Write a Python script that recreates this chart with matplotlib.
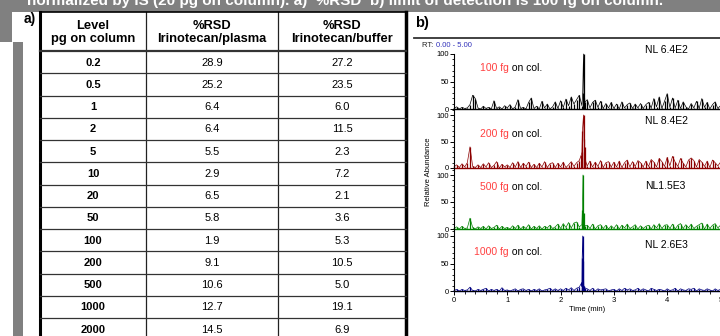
import numpy as np
import matplotlib
matplotlib.use("Agg")
import matplotlib.pyplot as plt
from matplotlib.patches import Rectangle
from matplotlib.ticker import MultipleLocator

plt.rcParams["font.family"] = ["Liberation Sans", "DejaVu Sans"]

W, H = 720, 336

# ---- table data -----------------------------------------------------------
levels = ["0.2", "0.5", "1", "2", "5", "10", "20", "50", "100", "200", "500", "1000", "2000"]
rsd_plasma = [28.9, 25.2, 6.4, 6.4, 5.5, 2.9, 6.5, 5.8, 1.9, 9.1, 10.6, 12.7, 14.5]
rsd_buffer = [27.2, 23.5, 6.0, 11.5, 2.3, 7.2, 2.1, 3.6, 5.3, 10.5, 5.0, 19.1, 6.9]
headers = ["Level\npg on column", "%RSD\nIrinotecan/plasma", "%RSD\nIrinotecan/buffer"]

# ---- chromatogram data (relative abundance, sampled every 0.05 min) ------
rt_step = 0.05
trace_100fg = [1, 4, 0, 3, 1, 2, 8, 25, 19, 2,
               0, 5, 1, 3, 0, 15, 1, 4, 0, 6,
               2, 8, 0, 4, 17, 1, 3, 0, 12, 20,
               1, 5, 0, 14, 2, 9, 0, 4, 13, 1,
               15, 3, 18, 6, 22, 9, 17, 25, 6, 12,
               17, 2, 12, 16, 3, 14, 1, 10, 2, 12,
               1, 9, 0, 13, 2, 8, 11, 1, 9, 2,
               10, 1, 8, 12, 2, 19, 4, 22, 1, 14,
               28, 3, 20, 2, 16, 1, 13, 4, 0, 10,
               2, 14, 1, 19, 3, 12, 0, 8, 13, 1,
               6]
trace_200fg = [2, 6, 1, 8, 2, 10, 40, 3, 1, 6,
               1, 8, 2, 10, 1, 5, 12, 0, 7, 2,
               6, 1, 10, 2, 12, 1, 9, 3, 11, 1,
               7, 1, 9, 2, 12, 1, 8, 10, 1, 9,
               2, 11, 1, 6, 12, 3, 10, 14, 30, 40,
               4, 13, 2, 11, 3, 14, 1, 10, 12, 2,
               11, 2, 13, 1, 10, 15, 2, 12, 3, 14,
               10, 2, 13, 3, 16, 11, 2, 18, 12, 3,
               20, 4, 22, 11, 3, 18, 9, 2, 15, 19,
               14, 2, 16, 11, 3, 13, 1, 15, 10, 4,
               11]
trace_500fg = [1, 4, 0, 5, 1, 2, 20, 3, 0, 4,
               1, 5, 0, 6, 1, 3, 7, 0, 5, 1,
               3, 0, 6, 1, 7, 0, 5, 1, 8, 0,
               5, 1, 6, 0, 5, 2, 7, 1, 4, 9,
               1, 10, 3, 12, 2, 11, 13, 4, 8, 6,
               7, 1, 9, 0, 6, 8, 1, 7, 0, 6,
               1, 8, 0, 7, 2, 9, 1, 4, 8, 0,
               6, 1, 5, 7, 0, 8, 2, 10, 1, 7,
               8, 1, 9, 0, 7, 10, 1, 8, 2, 9,
               1, 5, 8, 11, 0, 9, 1, 7, 10, 2,
               7]
trace_1000fg = [1, 3, 0, 3, 1, 2, 7, 1, 0, 3,
                1, 3, 5, 0, 3, 1, 3, 0, 6, 1,
                2, 0, 2, 4, 0, 3, 4, 1, 3, 0,
                3, 1, 4, 0, 2, 3, 5, 1, 4, 1,
                4, 1, 5, 2, 6, 1, 5, 7, 8, 6,
                4, 1, 5, 0, 4, 2, 3, 4, 0, 2,
                3, 0, 4, 1, 5, 2, 4, 1, 2, 5,
                1, 4, 2, 0, 5, 3, 1, 3, 2, 0,
                4, 1, 2, 5, 0, 4, 2, 1, 4, 3,
                5, 0, 4, 2, 1, 4, 2, 0, 4, 1,
                3]

peak_rt_100fg = [2.415, 2.43, 2.44]
peak_100fg = [30, 100, 20]
peak_rt_200fg = [2.39, 2.41, 2.43, 2.44, 2.46]
peak_200fg = [25, 70, 100, 55, 15]
peak_rt_500fg = [2.41, 2.42, 2.43]
peak_500fg = [35, 100, 30]
peak_rt_1000fg = [2.395, 2.405, 2.415, 2.425, 2.435]
peak_1000fg = [15, 60, 100, 55, 10]

amounts = ["100 fg", "200 fg", "500 fg", "1000 fg"]
nl_labels = ["NL 6.4E2", "NL 8.4E2", "NL1.5E3", "NL 2.6E3"]
trace_colors = ["#000000", "#8b0000", "#008000", "#00007f"]

fig = plt.figure(figsize=(W / 100, H / 100), dpi=100)
bg = fig.add_axes([0, 0, 1, 1])
bg.set_xlim(0, W)
bg.set_ylim(H, 0)
bg.axis("off")

GRAY = "#808080"
bg.add_patch(Rectangle((0, 0), W, 12, color=GRAY, lw=0))
bg.add_patch(Rectangle((0, 12), 12, 30, color=GRAY, lw=0))
bg.add_patch(Rectangle((13, 42), 10, H - 42, color=GRAY, lw=0))
bg.text(27, 5, "normalized by IS (20 pg on column). a)  %RSD  b) limit of detection is 100 fg on column.",
        color="white", fontsize=11, fontweight="bold", va="baseline", ha="left")

# ---- table a) -------------------------------------------------------------
bg.text(24, 19, "a)", fontsize=10, fontweight="bold", va="center", ha="left")
col_x = [40, 146, 278, 406]
head_top, head_bot, row_h = 12, 51, 22.25
for x in col_x[1:3]:
    bg.plot([x, x], [head_top, H], color="#222222", lw=0.9)
bg.plot([col_x[0], col_x[0]], [head_top, H], color="black", lw=2.2)
bg.plot([col_x[3], col_x[3]], [head_top, H], color="black", lw=2.5)
bg.plot([col_x[0], col_x[3]], [head_top, head_top], color="black", lw=1.2)
bg.plot([col_x[0], col_x[3]], [head_bot, head_bot], color="#333333", lw=1.6)
col_c = [(col_x[i] + col_x[i + 1]) / 2 for i in range(3)]
for c, h in zip(col_c, headers):
    bg.text(c, (head_top + head_bot) / 2 + 1, h, ha="center", va="center",
            fontsize=9.3, fontweight="bold", linespacing=1.12)
for k, (lv, p, b) in enumerate(zip(levels, rsd_plasma, rsd_buffer)):
    y0 = head_bot + k * row_h
    if k > 0:
        bg.plot([col_x[0], col_x[3]], [y0, y0], color="#333333", lw=0.9)
    yc = y0 + row_h / 2 + 0.5
    bg.text(col_c[0], yc, lv, ha="center", va="center", fontsize=8, fontweight="bold")
    bg.text(col_c[1], yc, f"{p:.1f}", ha="center", va="center", fontsize=8)
    bg.text(col_c[2], yc, f"{b:.1f}", ha="center", va="center", fontsize=8)

# ---- chromatograms b) -----------------------------------------------------
bg.text(415, 23, "b)", fontsize=10.5, fontweight="bold", va="center", ha="left")
bg.plot([414, W], [38, 38], color="#333333", lw=1.3)
bg.text(422, 45.5, "RT: ", fontsize=5.5, color="#222222", va="center", ha="left")
bg.text(436, 45.5, "0.00 - 5.00", fontsize=5.5, color="#3333bb", va="center", ha="left")
bg.text(428, 172, "Relative Abundance", fontsize=5.5, rotation=90, va="center", ha="center")

traces = [trace_100fg, trace_200fg, trace_500fg, trace_1000fg]
peak_rts = [peak_rt_100fg, peak_rt_200fg, peak_rt_500fg, peak_rt_1000fg]
peaks = [peak_100fg, peak_200fg, peak_500fg, peak_1000fg]
zero_px = [109, 168, 229, 291]
full_px = [54, 115, 175, 236]
label_y = [68, 134, 187, 252]
nl_y = [50, 121, 186, 245]
x_left, x_right = 454, 720.5

for k in range(4):
    top = full_px[0] if k == 0 else zero_px[k - 1]
    ax = fig.add_axes([x_left / W, 1 - zero_px[k] / H,
                       (x_right - x_left) / W, (zero_px[k] - top) / H])
    ymax = 100 * (zero_px[k] - top) / (zero_px[k] - full_px[k])
    ax.set_xlim(0, 5)
    ax.set_ylim(0, ymax)
    ax.patch.set_alpha(0)
    col = trace_colors[k]
    rt = np.arange(len(traces[k])) * rt_step
    x = np.concatenate([rt, peak_rts[k]])
    y = np.concatenate([traces[k], peaks[k]])
    order = np.argsort(x)
    # each scan drawn as a spike from the baseline, joined by a thin trace line
    ax.vlines(x, 0, y, color=col, lw=0.9, clip_on=False)
    ax.plot(x[order], y[order], color=col, lw=0.5, clip_on=False)
    ax.axhline(0.8, color=col, lw=1.0, clip_on=False)
    for s in ["top", "right"]:
        ax.spines[s].set_visible(False)
    ax.spines["left"].set_linewidth(0.8)
    ax.set_yticks([0, 50, 100])
    ax.yaxis.set_minor_locator(MultipleLocator(10))
    ax.tick_params(axis="y", which="major", length=3, width=0.7, labelsize=5.5, pad=0.5)
    ax.tick_params(axis="y", which="minor", length=1.5, width=0.6)
    if k < 3:
        ax.spines["bottom"].set_visible(False)
        ax.set_xticks([])
        ax.xaxis.set_minor_locator(plt.NullLocator())
    else:
        ax.spines["bottom"].set_linewidth(0.8)
        ax.set_xticks(range(6))
        ax.xaxis.set_minor_locator(MultipleLocator(0.2))
        ax.tick_params(axis="x", which="major", length=3, width=0.7, labelsize=5.5, pad=1.5)
        ax.tick_params(axis="x", which="minor", length=2, width=0.6)
        ax.set_xlabel("Time (min)", fontsize=5.5, labelpad=1)
    bg.text(645, nl_y[k], nl_labels[k], fontsize=7.5, va="center", ha="left")
    amt = bg.text(480 if k < 3 else 474, label_y[k], amounts[k], fontsize=7.5,
                  color="#ff4040", va="center", ha="left")
    bg.annotate(" on col.", xycoords=amt, xy=(1, 0), va="bottom", ha="left", fontsize=7.5)

fig.savefig("out.png", dpi=100)
